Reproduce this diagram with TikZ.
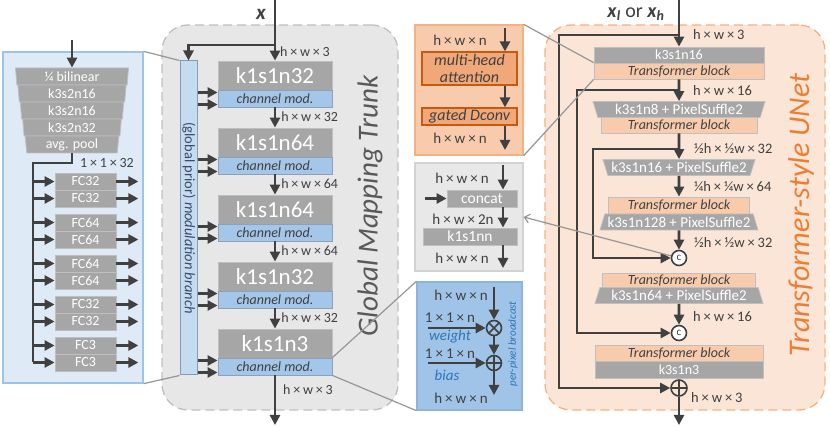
\documentclass[tikz,border=0pt]{standalone}
\usepackage{fontspec}
\setmainfont{Carlito}
\usepackage{xcolor}
\definecolor{lineDark}{RGB}{64,64,64}
\definecolor{textDark}{RGB}{64,64,64}
\definecolor{linkGrey}{RGB}{150,150,150}
\definecolor{convGrey}{RGB}{166,166,166}
\definecolor{convEdge}{RGB}{191,191,191}
\definecolor{modBlue}{RGB}{164,198,232}
\definecolor{modEdge}{RGB}{140,160,185}
\definecolor{tfOrange}{RGB}{248,203,173}
\definecolor{hotOrange}{RGB}{241,168,120}
\definecolor{hotEdge}{RGB}{197,90,17}
\definecolor{leftFill}{RGB}{222,235,247}
\definecolor{leftEdge}{RGB}{157,195,230}
\definecolor{barFill}{RGB}{197,219,240}
\definecolor{barEdge}{RGB}{130,155,185}
\definecolor{barText}{RGB}{55,75,100}
\definecolor{trunkFill}{RGB}{231,231,231}
\definecolor{trunkEdge}{RGB}{191,191,191}
\definecolor{unetFill}{RGB}{251,229,214}
\definecolor{unetEdge}{RGB}{244,177,131}
\definecolor{catFill}{RGB}{232,232,232}
\definecolor{catEdge}{RGB}{210,210,210}
\definecolor{cmpFill}{RGB}{160,196,232}
\definecolor{cmpEdge}{RGB}{140,180,220}
\definecolor{accentBlue}{RGB}{46,117,182}
\definecolor{accentOrange}{RGB}{237,125,49}
\definecolor{titleGrey}{RGB}{89,89,89}
\usepackage{tikz}
\usetikzlibrary{
    arrows.meta,
    shapes.geometric,
    positioning,
    calc
}
\newcommand{\fsz}[1]{\fontsize{#1}{#1}\selectfont}
\newcommand{\tms}{\kern.2em×\kern.2em}

\begin{document}
\begin{tikzpicture}[
    x=1pt, y=-1pt,
    flow/.style={draw=lineDark, line width=2.6pt, -{Triangle[length=10pt,width=10pt]}},
    bare/.style={draw=lineDark, line width=2.6pt},
    zoomLine/.style={draw=linkGrey, line width=1.2pt},
    panel/.style={rectangle, line width=1.3pt, inner sep=0pt},
    dashPanel/.style={panel, rounded corners=26pt, dash pattern=on 9pt off 5pt},
    convBlk/.style={
        rectangle, draw=convEdge, line width=0.8pt, fill=convGrey,
        text=white, inner sep=0pt, font=\fsz{14}
    },
    trapBlk/.style={
        trapezium, trapezium angle=65, trapezium stretches body,
        draw=convEdge, line width=0.8pt, fill=convGrey,
        text=white, inner sep=0pt, minimum height=16pt, font=\fsz{15}
    },
    stackRow/.style={
        trapezium, shape border rotate=180, trapezium angle=82,
        trapezium stretches body, draw=convEdge, line width=0.8pt,
        fill=convGrey, text=white, inner sep=0pt, minimum height=17pt,
        font=\fsz{14}
    },
    fcBlk/.style={convBlk, minimum width=61pt, minimum height=17pt},
    trunkBlk/.style={convBlk, minimum width=114pt, minimum height=29pt, font=\fsz{23}},
    modBlk/.style={
        rectangle, draw=modEdge, line width=0.8pt, fill=modBlue,
        text=textDark, inner sep=0pt, minimum width=114pt, minimum height=17pt,
        font=\fsz{14}\itshape
    },
    tfBlk/.style={
        rectangle, draw=convEdge, line width=0.8pt, fill=tfOrange,
        text=textDark, inner sep=0pt, minimum height=16pt, font=\fsz{14}\itshape
    },
    hotBlk/.style={
        rectangle, draw=hotEdge, line width=1.2pt, fill=hotOrange,
        text=textDark, inner sep=0pt, minimum width=95pt, align=center,
        font=\fontsize{16}{17}\selectfont\itshape
    },
    dimLbl/.style={anchor=west, text=textDark, inner sep=0pt, font=\fsz{14}},
    lbl/.style={text=textDark, inner sep=0pt, font=\fsz{15}},
    blueLbl/.style={text=accentBlue, inner sep=0pt, font=\fsz{15}\itshape},
    opNode/.style={circle, draw=lineDark, line width=1.6pt, minimum size=15pt, inner sep=0pt},
    opMul/.style={opNode, path picture={
        \draw[lineDark, line width=1.6pt]
            (path picture bounding box.north west) -- (path picture bounding box.south east)
            (path picture bounding box.north east) -- (path picture bounding box.south west);}},
    opAdd/.style={opNode, path picture={
        \draw[lineDark, line width=1.6pt]
            (path picture bounding box.north) -- (path picture bounding box.south)
            (path picture bounding box.east) -- (path picture bounding box.west);}},
    catNode/.style={opNode, fill=white, text=lineDark, font=\fsz{11}}
]
\useasboundingbox (0,0) rectangle (830,427);

    % Panels
    \node[panel, fill=leftFill, draw=leftEdge, minimum width=140pt, minimum height=331pt] (lp) at (73,217.5) {};
    \node[dashPanel, fill=trunkFill, draw=trunkEdge, minimum width=236pt, minimum height=385pt] (trunk) at (280,217.5) {};
    \node[dashPanel, fill=unetFill, draw=unetEdge, minimum width=280pt, minimum height=385pt] (unet) at (685,217.5) {};
    \node[panel, fill=tfOrange, draw=unetEdge, minimum width=108pt, minimum height=130pt] (tfp) at (469,90) {};
    \node[panel, fill=catFill, draw=catEdge, minimum width=108pt, minimum height=108pt] (catp) at (469,217) {};
    \node[panel, fill=cmpFill, draw=cmpEdge, minimum width=105pt, minimum height=128pt] (cmp) at (469.5,346) {};

    % Global prior branch (left)
    \coordinate (lpIn) at (72,40);
    \node[stackRow, minimum width=113pt] (r1) at (72,76.5) {¼ bilinear};
    \node[stackRow, minimum width=108.2pt] (r2) at (72,93.5) {k3s2n16};
    \node[stackRow, minimum width=103.4pt] (r3) at (72,110.5) {k3s2n16};
    \node[stackRow, minimum width=98.6pt] (r4) at (72,127.5) {k3s2n32};
    \node[stackRow, minimum width=93.8pt] (pool) at (72,144.5) {avg. pool};
    \draw[flow] (lpIn) -- (lpIn |- r1.north);
    \node[dimLbl] (poolLbl) at (80,163) {1\tms 1\tms 32};

    \node[fcBlk] (fc1) at (85.5,181.5) {FC32};
    \node[fcBlk] (fc2) at (85.5,198.5) {FC32};
    \node[fcBlk] (fc3) at (85.5,222.5) {FC64};
    \node[fcBlk] (fc4) at (85.5,239.5) {FC64};
    \node[fcBlk] (fc5) at (85.5,263.5) {FC64};
    \node[fcBlk] (fc6) at (85.5,280.5) {FC64};
    \node[fcBlk] (fc7) at (85.5,304.5) {FC32};
    \node[fcBlk] (fc8) at (85.5,321.5) {FC32};
    \node[fcBlk] (fc9) at (85.5,345.5) {FC3};
    \node[fcBlk] (fc10) at (85.5,362.5) {FC3};

    \coordinate (fcSpine) at (33,163);
    \draw[bare] (pool.south) |- (fcSpine) -- (fcSpine |- fc10.west);
    \foreach \fc in {fc1,fc2,fc3,fc4,fc5,fc6,fc7,fc8,fc9,fc10} {
        \draw[flow] (fcSpine |- \fc.west) -- (\fc.west);
        \draw[flow] (\fc.east) -- ++(22,0);
    }

    % Global Mapping Trunk
    \coordinate (xIn) at (275,0);
    \coordinate (xSplit) at (275,45);
    \node[text=lineDark, inner sep=0pt, font=\fsz{21}\bfseries\itshape] (xLbl) at (261,14) {x};
    \node[panel, fill=barFill, draw=barEdge, line width=1pt, minimum width=17pt, minimum height=314pt] (bar) at (188.5,218) {};
    \node[rotate=-90, text=barText, inner sep=0pt, font=\fsz{14.5}] (barLbl) at (189,218) {(global prior) \textit{modulation branch}};

    \node[trunkBlk] (b1) at (275,75.5) {k1s1n32};
    \node[modBlk] (m1) at (275,98.5) {channel mod.};
    \node[trunkBlk] (b2) at (275,142.5) {k1s1n64};
    \node[modBlk] (m2) at (275,165.5) {channel mod.};
    \node[trunkBlk] (b3) at (275,209.5) {k1s1n64};
    \node[modBlk] (m3) at (275,232.5) {channel mod.};
    \node[trunkBlk] (b4) at (275,276.5) {k1s1n32};
    \node[modBlk] (m4) at (275,299.5) {channel mod.};
    \node[trunkBlk] (b5) at (275,343.5) {k1s1n3};
    \node[modBlk] (m5) at (275,366.5) {channel mod.};

    \draw[flow] (xIn) -- (b1.north);
    \draw[flow] (xSplit) -| (bar.north);
    \node[dimLbl] at (280,52) {h\tms w\tms 3};
    \draw[flow] (m1.south) -- node[dimLbl, at end, xshift=5pt, yshift=10.5pt] {h\tms w\tms 32} (b2.north);
    \draw[flow] (m2.south) -- node[dimLbl, at end, xshift=5pt, yshift=10.5pt] {h\tms w\tms 64} (b3.north);
    \draw[flow] (m3.south) -- node[dimLbl, at end, xshift=5pt, yshift=10.5pt] {h\tms w\tms 64} (b4.north);
    \draw[flow] (m4.south) -- node[dimLbl, at end, xshift=5pt, yshift=10.5pt] {h\tms w\tms 32} (b5.north);
    \coordinate (trunkOut) at (275,425);
    \draw[flow] (m5.south) -- (trunkOut);
    \node[dimLbl] at (283,390) {h\tms w\tms 3};

    \foreach \m in {m1,m2,m3,m4,m5} {
        \draw[flow] ($(bar.east |- \m.west)+(0,-6)$) -- ($(\m.west)+(0,-6)$);
        \draw[flow] ($(bar.east |- \m.west)+(0,6)$) -- ($(\m.west)+(0,6)$);
    }

    \node[rotate=90, text=titleGrey, inner sep=0pt, font=\fsz{29}\itshape] (trunkTitle) at (370,206) {Global Mapping Trunk};

    % Transformer block detail
    \coordinate (tfpIn) at (505,28);
    \coordinate (tfpOut) at (505,150);
    \node[lbl] at (460,40) {h\tms w\tms n};
    \node[hotBlk, minimum height=33pt] (mha) at (469.5,68.5) {multi-head\\attention};
    \node[hotBlk, minimum height=17pt] (gdc) at (469.5,116.5) {gated Dconv};
    \node[lbl] at (460,138) {h\tms w\tms n};
    \draw[flow] (tfpIn) -- (tfpIn |- mha.north);
    \draw[flow] (tfpIn |- mha.south) -- (tfpIn |- gdc.north);
    \draw[flow] (tfpIn |- gdc.south) -- (tfpOut);

    % Concat detail
    \coordinate (catpIn) at (503,165);
    \coordinate (catpSide) at (425,198.5);
    \coordinate (catpOut) at (503,268);
    \node[lbl] at (462,178) {h\tms w\tms n};
    \node[convBlk, font=\fsz{15.5}, minimum width=70pt, minimum height=17pt] (concat) at (482,198.5) {concat};
    \node[lbl] at (463,219) {h\tms w\tms 2n};
    \node[convBlk, font=\fsz{15.5}, minimum width=94pt, minimum height=17pt] (kfuse) at (470,236.5) {k1s1nn};
    \node[lbl] at (462,258) {h\tms w\tms n};
    \draw[flow] (catpIn) -- (catpIn |- concat.north);
    \draw[flow] (catpSide) -- (concat.west);
    \draw[flow] (catpIn |- concat.south) -- (catpIn |- kfuse.north);
    \draw[flow] (catpIn |- kfuse.south) -- (catpOut);

    % Channel modulation detail
    \coordinate (cmpIn) at (494,287);
    \coordinate (wIn) at (428,328);
    \coordinate (bIn) at (428,363);
    \coordinate (cmpOut) at (494,395);
    \node[lbl] at (461,295) {h\tms w\tms n};
    \node[opMul] (mul) at (494,328) {};
    \node[opAdd] (add) at (494,363) {};
    \node[lbl] at (450,318) {1\tms 1\tms n};
    \node[blueLbl] at (450,337) {weight};
    \node[lbl] at (450,354) {1\tms 1\tms n};
    \node[blueLbl] at (447,375) {bias};
    \node[lbl] at (461,398) {h\tms w\tms n};
    \node[rotate=90, text=accentBlue, inner sep=0pt, font=\fsz{11}\itshape] at (513,344) {per-pixel broadcast};
    \draw[flow] (cmpIn) -- (mul.north);
    \draw[flow] (wIn) -- (mul.west);
    \draw[flow] (mul.south) -- (add.north);
    \draw[flow] (bIn) -- (add.west);
    \draw[flow] (add.south) -- (cmpOut);

    % Transformer-style UNet
    \coordinate (uIn) at (679,0);
    \coordinate (uOut) at (679,425);
    \node[text=lineDark, inner sep=0pt, font=\fsz{20}] (uInLbl) at (636,14)
        {\textbf{\textit{x}}\textsubscript{\textbf{\textit{l}}} or \textbf{\textit{x}}\textsubscript{\textbf{\textit{h}}}};
    \node[convBlk, minimum width=170pt, minimum height=16pt] (u1c) at (679,55) {k3s1n16};
    \node[tfBlk, minimum width=170pt] (u1t) at (679,71) {Transformer block};
    \node[trapBlk, shape border rotate=180, minimum width=172pt] (u2c) at (679,109.5) {k3s1n8 + PixelSuffle2};
    \node[tfBlk, minimum width=156pt] (u2t) at (679,125) {Transformer block};
    \node[trapBlk, shape border rotate=180, minimum width=152pt] (u3c) at (679,167.5) {k3s1n16 + PixelSuffle2};
    \node[tfBlk, minimum width=141pt, minimum height=17pt] (u4t) at (679,205.5) {Transformer block};
    \node[trapBlk, minimum width=158pt] (u4c) at (679,222) {k3s1n128 + PixelSuffle2};
    \node[catNode] (cat1) at (679,258) {c};
    \node[tfBlk, minimum width=153pt, minimum height=15pt] (u5t) at (679,280.5) {Transformer block};
    \node[trapBlk, minimum width=168pt] (u5c) at (679,295.5) {k3s1n64 + PixelSuffle2};
    \node[catNode] (cat2) at (679,333) {c};
    \node[tfBlk, minimum width=168pt] (u6t) at (679,353) {Transformer block};
    \node[convBlk, minimum width=168pt, minimum height=17pt] (u6c) at (679,369.5) {k3s1n3};
    \node[opAdd, minimum size=16pt] (sum) at (679,388) {};

    \coordinate (skipA) at (679,35);
    \coordinate (skipB) at (679,90);
    \coordinate (skipC) at (679,149);
    \draw[flow] (uIn) -- (u1c.north);
    \draw[flow] (u1t.south) -- (u2c.north);
    \draw[flow] (u2t.south) -- (u3c.north);
    \draw[flow] (u3c.south) -- (u4t.north);
    \draw[flow] (u4c.south) -- (cat1.north);
    \draw[flow] (u5c.south) -- (cat2.north);
    \draw[flow] (sum.south) -- (uOut);
    \draw[flow] (skipA) -- ++(-120,0) |- (sum.west);
    \draw[flow] (skipB) -- ++(-102,0) |- (cat2.west);
    \draw[flow] (skipC) -- ++(-86,0) |- (cat1.west);

    \node[dimLbl, font=\fsz{14.5}] at (693,35) {h\tms w\tms 3};
    \node[dimLbl, font=\fsz{14.5}] at (693,91) {h\tms w\tms 16};
    \node[dimLbl, font=\fsz{14.5}] at (694,149) {½h\tms ½w\tms 32};
    \node[dimLbl, font=\fsz{14.5}] at (694,187) {¼h\tms ¼w\tms 64};
    \node[dimLbl, font=\fsz{14.5}] at (694,243) {½h\tms ½w\tms 32};
    \node[dimLbl, font=\fsz{14.5}] at (693,317) {h\tms w\tms 16};
    \node[dimLbl, font=\fsz{14.5}] at (691,398) {h\tms w\tms 3};

    \node[rotate=90, text=accentOrange, inner sep=0pt, font=\fsz{30}\itshape] (unetTitle) at (801,215) {Transformer-style UNet};

    % Zoom lines
    \draw[zoomLine] (lp.north east) -- (bar.north west);
    \draw[zoomLine] (lp.south east) -- (bar.south west);
    \draw[zoomLine] (m5.north east) -- (cmp.north west);
    \draw[zoomLine] (m5.south east) -- (cmp.south west);
    \draw[zoomLine] (tfp.north east) -- (u1t.north west);
    \draw[zoomLine] (tfp.south east) -- (u1t.south west);
    \draw[zoomLine, -{Straight Barb[length=5pt,width=9pt]}] (cat1) -- (catp.east);

\end{tikzpicture}
\end{document}
